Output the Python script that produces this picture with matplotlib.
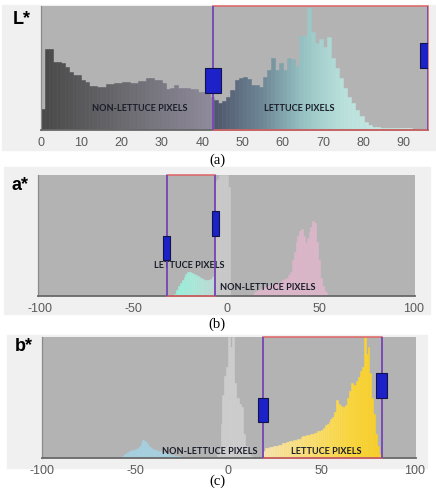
import numpy as np
import matplotlib.pyplot as plt
from matplotlib.patches import Rectangle

plt.rcParams['font.family'] = ['Liberation Sans', 'DejaVu Sans']
plt.rcParams['axes.unicode_minus'] = False

W, H = 436, 490

# ---- L* histogram (one bin per unit, height as fraction of axes) ----
L_start = 0
L_counts = [0.17, 0.65, 0.65, 0.55, 0.55, 0.54, 0.51, 0.47, 0.44, 0.44,
            0.40, 0.39, 0.355, 0.355, 0.35, 0.35, 0.37, 0.37, 0.38, 0.38,
            0.39, 0.39, 0.38, 0.38, 0.395, 0.395, 0.42, 0.42, 0.40, 0.40,
            0.376, 0.33, 0.336, 0.36, 0.336, 0.336, 0.336, 0.33, 0.33, 0.31,
            0.31, 0.31, 0.27, 0.24, 0.215, 0.237, 0.27, 0.32, 0.40, 0.42,
            0.425, 0.41, 0.36, 0.36, 0.35, 0.425, 0.48, 0.58, 0.48, 0.54,
            0.48, 0.58, 0.57, 0.52, 0.76, 0.76, 0.98, 0.79, 0.70, 0.73,
            0.67, 0.75, 0.58, 0.50, 0.42, 0.34, 0.27, 0.215, 0.16, 0.11,
            0.067, 0.04, 0.027, 0.027, 0.02, 0.02, 0.02, 0.02, 0.013, 0.013,
            0.013, 0.013, 0.008, 0.008, 0.008, 0.008]
L_lo, L_hi = 42.7, 96
L_ticks = [0, 10, 20, 30, 40, 50, 60, 70, 80, 90]

# ---- a* histograms ----
a_gray_start = -6
a_gray = [0.95, 0.97, 1.0, 1.0, 1.0, 1.0, 1.0, 0.9]
a_cyan_start = -28
a_cyan = [0.02, 0.05, 0.08, 0.11, 0.13, 0.16, 0.18, 0.2, 0.2, 0.19,
          0.18, 0.17, 0.165, 0.16, 0.15, 0.14, 0.13, 0.13, 0.135, 0.14,
          0.155, 0.165]
a_pink_start = 14
a_pink = [0.02, 0.03, 0.04, 0.05, 0.06, 0.07, 0.075, 0.08, 0.085, 0.09,
          0.095, 0.10, 0.10, 0.11, 0.115, 0.12, 0.13, 0.14, 0.15, 0.17,
          0.2, 0.3, 0.36, 0.45, 0.5, 0.54, 0.55, 0.5, 0.44, 0.48,
          0.53, 0.57, 0.62, 0.6, 0.45, 0.3, 0.15, 0.08, 0.05, 0.03, 0.01]
a_lo, a_hi = -32, -6
ab_ticks = [-100, -50, 0, 50, 100]

# ---- b* histograms ----
b_blue_start = -58
b_blue = [0.01, 0.02, 0.03, 0.04, 0.05, 0.06, 0.065, 0.07, 0.075, 0.08,
          0.1, 0.12, 0.15, 0.14, 0.12, 0.1, 0.085, 0.075, 0.07, 0.065,
          0.06, 0.055, 0.05, 0.045, 0.04, 0.035, 0.03, 0.027, 0.024, 0.02,
          0.018, 0.015, 0.012, 0.01, 0.008, 0.006, 0.005]
b_gray_start = -6
b_gray = [0.03, 0.08, 0.28, 0.52, 0.68, 0.75, 1.0, 0.92, 1.0, 0.62,
          0.5, 0.5, 0.45, 0.42, 0.2, 0.1, 0.05, 0.03, 0.02, 0.01]
b_yel_start = 19
b_yel = [0.06, 0.08, 0.08, 0.09, 0.09, 0.1, 0.1, 0.1, 0.11, 0.11,
         0.12, 0.12, 0.13, 0.13, 0.14, 0.14, 0.15, 0.15, 0.16, 0.16,
         0.17, 0.18, 0.18, 0.19, 0.19, 0.2, 0.2, 0.21, 0.21, 0.22,
         0.22, 0.23, 0.25, 0.27, 0.28, 0.3, 0.32, 0.34, 0.38, 0.48,
         0.45, 0.43, 0.42, 0.42, 0.44, 0.5, 0.55, 0.62, 0.6, 0.6,
         0.64, 0.67, 0.72, 0.75, 1.0, 0.86, 0.92, 0.7, 0.5, 0.36,
         0.2, 0.1, 0.03]
b_lo, b_hi = 18.7, 82.5


def grad(xs, anchors):
    pos = [p for p, c in anchors]
    out = []
    for x in xs:
        rgb = [np.interp(x, pos, [c[i] for p, c in anchors]) / 255 for i in range(3)]
        out.append(tuple(rgb))
    return out


def add_ax(x0, y0, x1, y1):
    return fig.add_axes([x0 / W, 1 - y1 / H, (x1 - x0) / W, (y1 - y0) / H])


def panel_bg(x0, y0, x1, y1):
    fig.patches.append(Rectangle((x0 / W, 1 - y1 / H), (x1 - x0) / W, (y1 - y0) / H,
                                 transform=fig.transFigure, color='#f0f0f0', zorder=-5))


def hist(ax, start, vals, colors):
    xs = np.arange(len(vals)) + start
    ax.bar(xs, vals, width=1, align='edge', color=colors, edgecolor=colors,
           linewidth=0.4, zorder=1)


def style(ax, xlim, ticks):
    ax.set_facecolor('#b3b3b3')
    ax.set_xlim(*xlim)
    ax.set_ylim(0, 1)
    ax.set_yticks([])
    ax.set_xticks(ticks)
    ax.tick_params(axis='x', length=0, pad=5, labelsize=9, labelcolor='#5a5a5a')
    for s in ['top', 'right']:
        ax.spines[s].set_visible(False)
    ax.spines['left'].set_color('#8a8a8a')
    ax.spines['left'].set_linewidth(0.9)
    ax.spines['bottom'].set_color('#686868')
    ax.spines['bottom'].set_linewidth(1.3)


def box(ax, lo, hi, hw):
    ax.add_patch(Rectangle((lo, 0), hi - lo, 1, fill=False, ec='#e06464', lw=1.1,
                           zorder=3, clip_on=False))
    ax.axvline(lo, color='#6a46c4', lw=1.2, zorder=4)
    ax.axvline(hi, color='#6a46c4', lw=1.2, zorder=4)
    ax.add_patch(Rectangle((lo - hw / 2, 0.30), hw, 0.20, fc='#1c22c8', ec='#12124a',
                           lw=0.8, zorder=5))
    ax.add_patch(Rectangle((hi - hw / 2, 0.50), hw, 0.20, fc='#1c22c8', ec='#12124a',
                           lw=0.8, zorder=5))


def tag(ax, x, y, s):
    ax.text(x, y, s, ha='center', va='center', fontsize=6.6, fontweight='bold',
            family='Lato', color='#1a1e2a', zorder=3.5)


fig = plt.figure(figsize=(W / 100, H / 100), dpi=100)
fig.patch.set_facecolor('white')

# ---------------- (a) L* ----------------
panel_bg(2, 5, 436, 150)
ax = add_ax(41, 6, 428, 130)
style(ax, (0, 96), L_ticks)
Lx = np.arange(len(L_counts)) + L_start + 0.5
L_cols = [c if x < L_lo else d for x, c, d in zip(
    Lx,
    grad(Lx, [(0, (72, 72, 72)), (20, (105, 105, 110)), (42, (142, 138, 154))]),
    grad(Lx, [(43, (78, 86, 108)), (55, (110, 135, 150)), (65, (150, 195, 195)),
              (75, (186, 225, 220)), (96, (212, 238, 235))]))]
hist(ax, L_start, L_counts, L_cols)
box(ax, L_lo, L_hi, 4.0)
tag(ax, 24.6, 0.17, 'NON-LETTUCE PIXELS')
tag(ax, 64, 0.17, 'LETTUCE PIXELS')
fig.text(13 / W, 1 - 20 / H, 'L*', fontsize=13, fontweight='bold', va='center', ha='left')
fig.text(217 / W, 1 - 160 / H, '(a)', fontsize=10.5, family='Liberation Serif',
         ha='center', va='center')

# ---------------- (b) a* ----------------
panel_bg(4, 167, 430, 314)
ax = add_ax(38, 175, 415, 296)
style(ax, (-101, 101), ab_ticks)
hist(ax, a_gray_start, a_gray, '#c9c9c9')
ax_c = np.arange(len(a_cyan)) + a_cyan_start
hist(ax, a_cyan_start, a_cyan, grad(ax_c, [(-28, (150, 240, 218)), (-18, (170, 232, 218)),
                                           (-7, (192, 218, 212))]))
hist(ax, a_pink_start, a_pink, '#dbb6c9')
box(ax, a_lo, a_hi, 3.7)
tag(ax, -20, 0.256, 'LETTUCE PIXELS')
tag(ax, 22, 0.07, 'NON-LETTUCE PIXELS')
fig.text(11 / W, 1 - 186 / H, 'a*', fontsize=13, fontweight='bold', va='center', ha='left')
fig.text(217 / W, 1 - 324 / H, '(b)', fontsize=10.5, family='Liberation Serif',
         ha='center', va='center')

# ---------------- (c) b* ----------------
panel_bg(7, 335, 427, 468)
ax = add_ax(42, 337, 416, 458)
style(ax, (-100, 101), ab_ticks)
hist(ax, b_blue_start, b_blue, '#a6cfdf')
hist(ax, b_gray_start, b_gray, '#cdcdcd')
bx = np.arange(len(b_yel)) + b_yel_start
hist(ax, b_yel_start, b_yel, grad(bx, [(19, (248, 228, 172)), (45, (250, 222, 110)),
                                      (65, (250, 214, 60)), (82, (248, 206, 40))]))
box(ax, b_lo, b_hi, 5.6)
tag(ax, -10, 0.05, 'NON-LETTUCE PIXELS')
tag(ax, 53, 0.05, 'LETTUCE PIXELS')
fig.text(15 / W, 1 - 346 / H, 'b*', fontsize=13, fontweight='bold', va='center', ha='left')
fig.text(217 / W, 1 - 481 / H, '(c)', fontsize=10.5, family='Liberation Serif',
         ha='center', va='center')

fig.savefig('out.png', dpi=100)
